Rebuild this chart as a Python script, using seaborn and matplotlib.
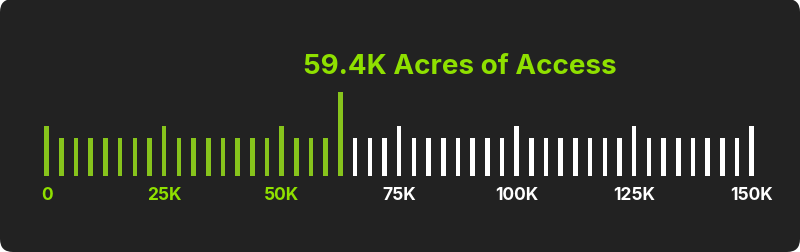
import matplotlib
matplotlib.use("Agg")
import matplotlib.pyplot as plt
from matplotlib.patches import FancyBboxPatch
import seaborn as sns
import pandas as pd

# ---- data ----
tick_positions_k = [0, 3.125, 6.25, 9.375, 12.5, 15.625, 18.75, 21.875,
                    25, 28.125, 31.25, 34.375, 37.5, 40.625, 43.75, 46.875,
                    50, 53.125, 56.25, 59.375, 62.5, 65.625, 68.75, 71.875,
                    75, 78.125, 81.25, 84.375, 87.5, 90.625, 93.75, 96.875,
                    100, 103.125, 106.25, 109.375, 112.5, 115.625, 118.75, 121.875,
                    125, 128.125, 131.25, 134.375, 137.5, 140.625, 143.75, 146.875,
                    150]
bar_heights = [50, 38, 38, 38, 38, 38, 38, 38,
               50, 38, 38, 38, 38, 38, 38, 38,
               50, 38, 38, 38, 84, 38, 38, 38,
               50, 38, 38, 38, 38, 38, 38, 38,
               50, 38, 38, 38, 38, 38, 38, 38,
               50, 38, 38, 38, 38, 38, 38, 38,
               50]
bar_status = ["access"] * 21 + ["other"] * 28
label_values = [0, 25, 50, 75, 100, 125, 150]
label_texts = ["0", "25K", "50K", "75K", "100K", "125K", "150K"]
label_status = ["access", "access", "access", "other", "other", "other", "other"]
title_text = "59.4K Acres of Access"

GREEN = "#8fe000"
WHITE = "#ffffff"
BG = "#222222"
palette = {"access": GREEN, "other": WHITE}

df = pd.DataFrame({"pos": tick_positions_k, "height": bar_heights, "status": bar_status})

W, H = 800, 253
fig = plt.figure(figsize=(W / 100, H / 100), dpi=100)
fig.patch.set_facecolor("white")
card = FancyBboxPatch((0, 0), W, H, boxstyle="round,pad=0,rounding_size=13",
                      transform=None, facecolor=BG, edgecolor="none", zorder=-10)
fig.patches.append(card)

ax = fig.add_axes([0, 0, 1, 1])
ax.set_facecolor("none")
ax.set_zorder(1)

x0_px, px_per_k = 46.7, 4.7
base_from_bottom = H - 176.7

sns.barplot(data=df, x="pos", y="height", hue="status", palette=palette,
            native_scale=True, dodge=False, width=0.31, linewidth=0,
            legend=False, ax=ax)

ax.set_xlim(-x0_px / px_per_k, (W - x0_px) / px_per_k)
ax.set_ylim(-base_from_bottom, H - base_from_bottom)
ax.axis("off")

label_y = (H - 196) - base_from_bottom
for v, t, s in zip(label_values, label_texts, label_status):
    ax.text(v, label_y, t, ha="center", va="center", fontsize=12.5,
            fontweight="bold", family=["Inter", "DejaVu Sans"], color=palette[s])

fig.text(460 / W, (H - 67) / H, title_text, ha="center", va="center",
         fontsize=20, fontweight="bold", family=["Inter", "DejaVu Sans"], color=GREEN,
         zorder=5)

fig.savefig("out.png", dpi=100, facecolor=fig.get_facecolor())
